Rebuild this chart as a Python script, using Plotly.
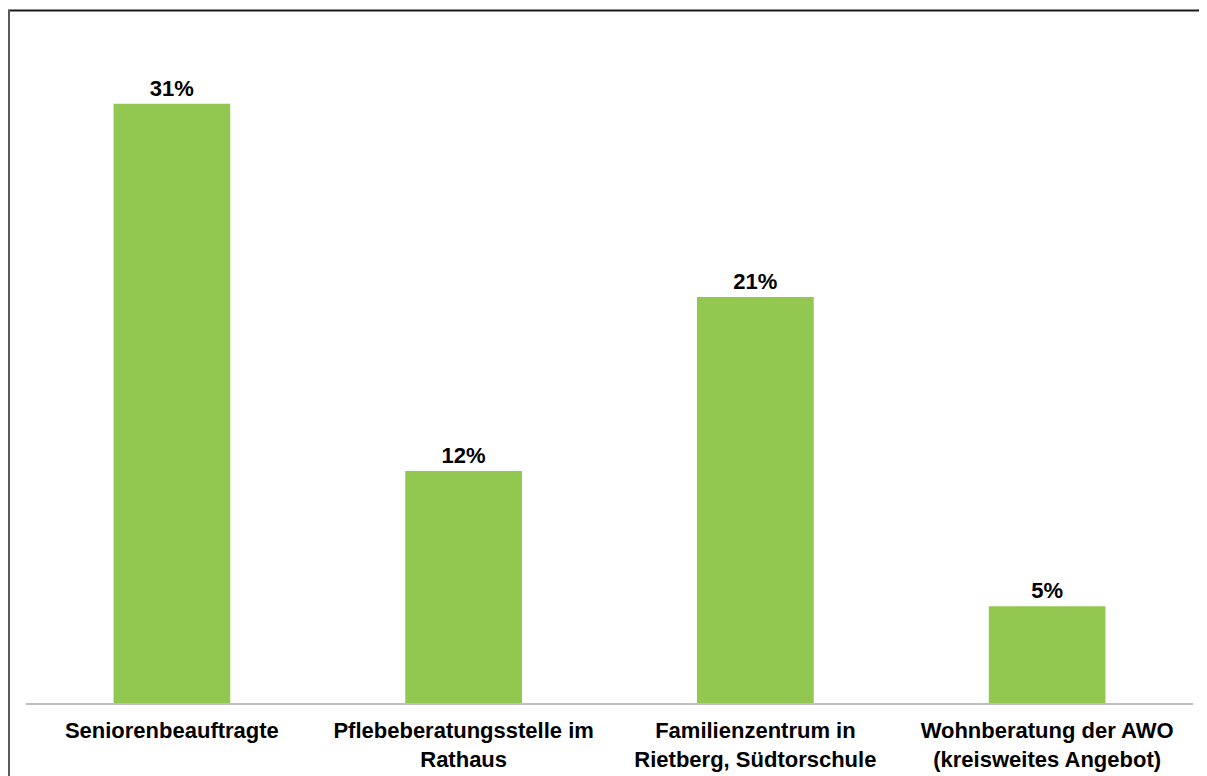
import plotly.graph_objects as go

categories = [
    "Seniorenbeauftragte",
    "Pflebeberatungsstelle im<br>Rathaus",
    "Familienzentrum in<br>Rietberg, Südtorschule",
    "Wohnberatung der AWO<br>(kreisweites Angebot)",
]
values = [31, 12, 21, 5]
value_labels = ["31%", "12%", "21%", "5%"]

W, H = 1207, 776
ml, mr, mt, mb = 18, 22, 12, 79
pw, ph = W - ml - mr, H - mt - mb

FONT = "Liberation Sans, Arial, sans-serif"

fig = go.Figure(
    go.Bar(
        x=categories,
        y=values,
        text=value_labels,
        textposition="outside",
        textfont=dict(family=FONT, size=22, color="#000000", weight="bold"),
        marker=dict(color="#92C850", line=dict(width=0)),
        cliponaxis=False,
        hoverinfo="skip",
    )
)

fig.update_layout(
    width=W,
    height=H,
    margin=dict(l=ml, r=mr, t=mt, b=mb),
    paper_bgcolor="white",
    plot_bgcolor="white",
    bargap=0.6,
    showlegend=False,
    font=dict(family=FONT, color="#000000"),
    xaxis=dict(
        showline=True,
        linecolor="#BFBFBF",
        linewidth=2,
        showgrid=False,
        ticks="",
        ticklabelstandoff=7,
        tickfont=dict(family=FONT, size=22, color="#000000", weight="bold"),
    ),
    yaxis=dict(
        range=[0, 35.33],
        visible=False,
        showgrid=False,
        zeroline=False,
    ),
)


def px_x(v):
    return (v - ml) / pw


def px_y(v):
    return (H - mb - v) / ph


# outer frame: dark top edge and grey left edge
fig.add_shape(
    type="line", xref="paper", yref="paper",
    x0=px_x(0), x1=px_x(W + 20), y0=px_y(2.5), y1=px_y(2.5),
    line=dict(color="#1a1a1a", width=2), layer="above",
)
fig.add_shape(
    type="line", xref="paper", yref="paper",
    x0=px_x(1), x1=px_x(1), y0=px_y(2), y1=px_y(H + 20),
    line=dict(color="#595959", width=2), layer="above",
)

fig.write_html(
    "out.html",
    post_script="document.documentElement.style.overflow='hidden';document.body.style.overflow='hidden';",
)
